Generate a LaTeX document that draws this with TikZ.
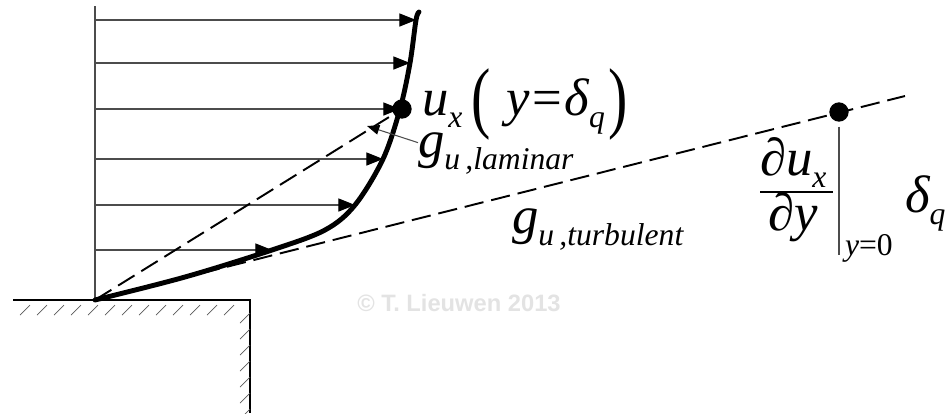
\documentclass[tikz,border=0pt]{standalone}
\usepackage{fontspec}
\setmainfont{Liberation Serif}
\newfontfamily\wmfont{Liberation Sans}
\usepackage{graphicx}
\usetikzlibrary{arrows.meta}

\newcommand{\bigsz}{\fontsize{30}{33}\selectfont}
\newcommand{\subsz}{\fontsize{18}{20}\selectfont}
\newcommand{\lowsub}[1]{\raisebox{-7pt}{\subsz\itshape #1}}
\newcommand{\tallparen}[1]{\raisebox{-5pt}{\scalebox{1.1}[1.5]{\upshape #1}}}

\begin{document}
\begin{tikzpicture}[x=0.02cm,y=-0.02cm,
	every node/.style={inner sep=0pt,outer sep=0pt},
	lbl/.style={anchor=base west,font=\bigsz\itshape},
	wall/.style={line width=1.2pt},
	hatch/.style={line width=0.4pt,gray!70!black},
	axis/.style={line width=0.6pt,gray!60!black},
	velarrow/.style={line width=0.6pt,gray!60!black,-{Triangle[length=9.5pt,width=7.5pt,black]}},
	profile/.style={line width=2.8pt,line join=round,line cap=round},
	guide/.style={line width=1.1pt,dash pattern=on 11pt off 4.5pt},
	dotnode/.style={circle,fill=black,minimum size=11pt},
	leader/.style={line width=0.6pt,gray!60!black,-{Triangle[length=7pt,width=5.5pt,black]}},
	>=Latex]

	\useasboundingbox (0,0) rectangle (947,413);

	% wall with hatching
	\coordinate (origin) at (95,300);
	\coordinate (edge) at (250,300);
	\draw[wall] (13,300) -- (edge) -- (250,413);
	\foreach \x in {20,37,...,232} \draw[hatch] (\x,315) -- ++(10,-10);
	\foreach \y in {313,329,...,409} \draw[hatch] (240,\y+10) -- ++(10,-10);

	% velocity profile
	\coordinate (axtop) at (95,6);
	\draw[axis] (axtop) -- (origin);
	\foreach \yy/\xx [count=\i] in {20/416,63/410,109/400,159/383,205/355,250/272}{
		\coordinate (a\i) at (95,\yy);
		\coordinate (v\i) at (\xx,\yy);
		\draw[velarrow] (a\i) -- (v\i);
	}
	\draw[profile] plot[smooth,tension=0.55] coordinates {(origin) (185,277) (v6) (325,230) (v5) (v4) (v3) (v2) (v1) (419,12)};

	% gradients
	\coordinate (tend) at (905,96);
	\draw[guide] (origin) -- (402,109);
	\draw[guide] (origin) -- (tend);
	\node[dotnode] (ldot) at (402,109) {};
	\node[dotnode] (tdot) at (839,112) {};

	% labels
	\node[lbl] (ux) at (422,115) {u\lowsub{x}\hspace{5pt}\tallparen{(}\hspace{9pt}y\hspace{1.5pt}{\upshape=}\hspace{1.5pt}δ\lowsub{q}\hspace{2pt}\tallparen{)}};
	\node[lbl] (glam) at (418,157) {g\lowsub{u\,,laminar}};
	\node[lbl] (gturb) at (512,233) {g\lowsub{u\,,turbulent}};
	\coordinate (lamtip) at (367,126);
	\draw[leader] ([yshift=6pt]glam.west) -- (lamtip);

	\node[lbl] (dnum) at (760,175) {∂u\lowsub{x}};
	\node[lbl] (dden) at (768,230) {∂y};
	\draw[line width=0.6pt] (760,192) -- (833,192);
	\coordinate (evalend) at (839,255);
	\draw[axis] ([yshift=-2.8pt]tdot.south) -- (evalend);
	\node[anchor=base west,font=\subsz\itshape] (evalat) at (845,255) {y{\upshape=0}};
	\node[lbl] (dq) at (905,212) {δ\lowsub{q}};

	\node[font=\fontsize{13.5}{15}\wmfont\bfseries,text=gray!22] (copy) at (459,303) {© T. Lieuwen 2013};
\end{tikzpicture}
\end{document}
